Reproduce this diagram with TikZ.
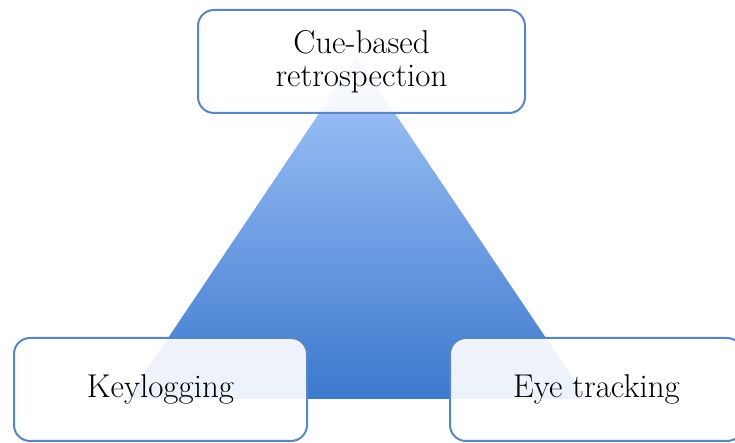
\documentclass[tikz,border=0pt]{standalone}
\usepackage{tikz}
\usetikzlibrary{positioning, calc}
\definecolor{TriTop}{HTML}{A6C8FB}
\definecolor{TriBottom}{HTML}{3C78CD}
\definecolor{BoxBlue}{HTML}{5A86C0}

\begin{document}
\begin{tikzpicture}[
    x=0.5pt, y=-0.5pt,
    box/.style={rectangle, rounded corners=8pt, draw=BoxBlue, line width=1pt,
                fill=white, fill opacity=0.91, text opacity=1,
                minimum width=146.5pt, minimum height=51.5pt,
                align=center, font=\fontsize{16.5}{16.5}\selectfont}
]
    \useasboundingbox (0,0) rectangle (735,443);

    % Triangle
    \coordinate (apex) at (357,57);
    \coordinate (left) at (127,399);
    \coordinate (right) at (587,399);
    \shade[top color=TriTop, bottom color=TriBottom] (apex) -- (right) -- (left) -- cycle;

    % Top
    \node[box, minimum width=163.5pt] (cue) at (361.5,61.5) {
        Cue-based\\retrospection
    };

    % Left
    \node[box] (key) at (160.5,389.5) {Keylogging};

    % Right
    \node[box] (eye) at (596.5,389.5) {Eye tracking};
\end{tikzpicture}
\end{document}
